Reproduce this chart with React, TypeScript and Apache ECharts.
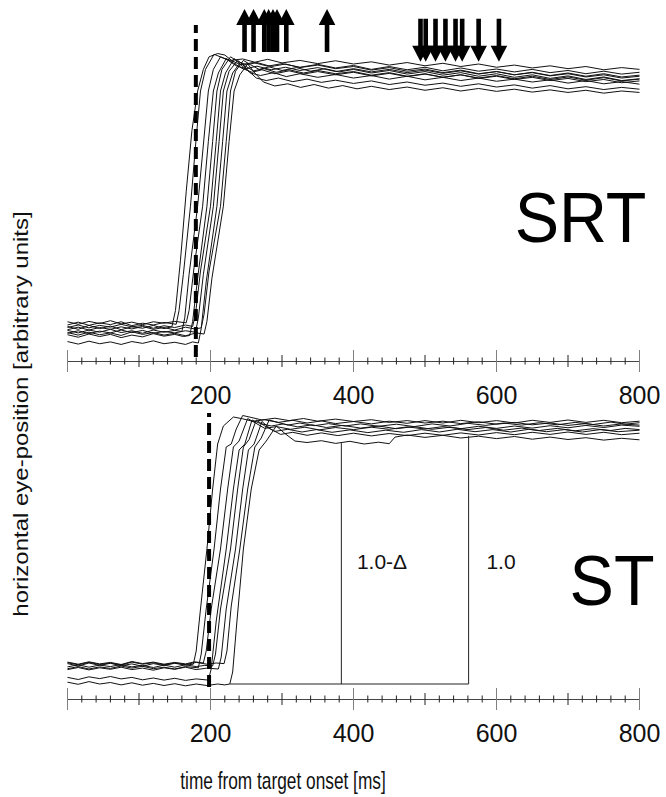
import React, { useEffect, useRef } from "react";
import * as echarts from "echarts";

// ---------- axis ----------
const X_MIN = 0;
const X_MAX = 800;
const TICK_LABELS = [200, 400, 600, 800];
const TICKS = [0, 20, 40, 60, 80, 100, 120, 140, 160, 180, 200, 220, 240, 260, 280, 300, 320, 340, 360, 380, 400,
  420, 440, 460, 480, 500, 520, 540, 560, 580, 600, 620, 640, 660, 680, 700, 720, 740, 760, 780, 800];

// ---------- SRT panel ----------
const U1 = [[0,9.6],[15,8.8],[30,9.9],[45,9.0],[60,9.7],[75,8.7],[90,9.5],[105,9.1],[120,9.9],[135,9.0],[146,9.5],[151,14],[158,28],[166,47],[174,64],[182,75],[190,81],[198,84.5],[210,85.4],[220,85.0],[230,83.4],[242,82.3],[260,82.9],[280,81.9],[300,82.6],[325,81.6],[350,82.4],[375,81.4],[400,82.1],[425,81.0],[450,81.8],[475,80.9],[500,81.6],[525,80.6],[550,81.4],[575,80.5],[600,81.1],[625,80.3],[650,81.0],[675,80.1],[700,80.7],[725,79.8],[750,80.5],[775,79.7],[800,80.2]];
const U2 = [[0,10.0],[15,10.8],[30,9.9],[45,10.6],[60,10.1],[75,10.9],[90,9.8],[105,10.5],[120,10.0],[135,10.7],[152,10.2],[156,14],[162,24],[172,43],[180,62],[186,75],[193,81],[205,85.2],[216,84.3],[228,83.5],[245,83.9],[262,83.0],[280,83.8],[300,82.8],[325,83.5],[350,82.6],[375,83.4],[400,82.5],[425,83.1],[450,82.2],[475,82.9],[500,82.0],[525,82.7],[550,81.8],[575,82.5],[600,81.6],[625,82.2],[650,81.4],[675,82.0],[700,81.2],[725,81.8],[750,80.9],[775,81.5],[800,81.0]];
const U3 = [[0,8.5],[15,7.8],[30,8.6],[45,8.0],[60,8.8],[75,7.9],[90,8.4],[105,7.7],[120,8.6],[135,8.0],[150,8.5],[160,8.2],[164,12],[170,24],[182,43],[190,60],[197,75],[204,81],[214,84.5],[224,83.6],[236,82.0],[250,81.2],[265,81.9],[285,80.9],[305,81.6],[325,80.7],[350,81.5],[375,80.4],[400,81.2],[425,80.3],[450,81.0],[475,80.1],[500,80.8],[525,79.9],[550,80.6],[575,79.7],[600,80.4],[625,79.5],[650,80.2],[675,79.3],[700,80.0],[725,79.1],[750,79.8],[775,78.9],[800,79.4]];
const U4 = [[0,10.9],[15,10.2],[30,11.0],[45,10.4],[60,11.2],[75,10.3],[90,10.8],[105,10.1],[120,10.9],[135,10.5],[150,11.0],[166,10.6],[170,14],[177,26],[189,43],[197,61],[204,75],[211,80],[222,84.0],[232,82.8],[244,81.3],[258,80.2],[272,80.9],[290,79.8],[310,80.6],[330,79.7],[350,80.4],[375,79.5],[400,80.2],[425,79.2],[450,79.9],[475,79.0],[500,79.7],[525,78.8],[550,79.5],[575,78.6],[600,79.3],[625,78.4],[650,79.1],[675,78.2],[700,78.9],[725,78.0],[750,78.7],[775,77.8],[800,78.3]];
const U5 = [[0,7.3],[15,6.6],[30,7.5],[45,6.8],[60,7.4],[75,6.5],[90,7.2],[105,6.7],[120,7.6],[135,6.9],[150,7.4],[162,6.8],[171,7.1],[175,11],[182,23],[195,43],[203,61],[209,75],[216,81],[228,84.5],[238,83.2],[250,82.3],[265,82.9],[285,81.8],[305,82.5],[325,81.5],[350,82.2],[375,81.2],[400,81.8],[425,80.8],[450,81.5],[475,80.5],[500,81.1],[525,80.1],[550,80.8],[575,79.8],[600,80.4],[625,79.5],[650,80.1],[675,79.2],[700,79.8],[725,78.9],[750,79.5],[775,78.6],[800,79.1]];
const U6 = [[0,9.3],[15,10.0],[30,9.2],[45,9.9],[60,9.4],[75,10.2],[90,9.5],[105,9.9],[120,9.1],[135,9.8],[150,9.3],[165,10.0],[175,9.6],[179,13],[186,25],[200,43],[208,61],[214,75],[221,80],[233,84.0],[244,82.0],[256,80.0],[270,79.3],[288,80.1],[306,79.0],[325,79.8],[350,78.8],[375,79.6],[400,78.6],[425,79.3],[450,78.3],[475,79.1],[500,78.1],[525,78.8],[550,77.9],[575,78.6],[600,77.7],[625,78.3],[650,77.5],[675,78.1],[700,77.2],[725,77.9],[750,77.0],[775,77.6],[800,76.9]];
const U7 = [[0,7.7],[15,8.4],[30,7.6],[45,8.3],[60,7.8],[75,8.6],[90,7.9],[105,8.5],[120,7.7],[135,8.2],[150,7.8],[165,8.4],[179,8.0],[183,12],[190,24],[204,43],[212,61],[218,75],[226,80.5],[238,83.5],[248,82.0],[260,80.6],[275,81.2],[292,80.2],[310,80.9],[330,80.0],[350,80.7],[375,79.8],[400,80.4],[425,79.4],[450,80.1],[475,79.1],[500,79.8],[525,78.8],[550,79.5],[575,78.5],[600,79.1],[625,78.2],[650,78.8],[675,77.9],[700,78.5],[725,77.6],[750,78.2],[775,77.3],[800,77.8]];
const U8 = [[0,5.4],[15,4.7],[30,5.5],[45,4.8],[60,5.3],[75,4.6],[90,5.4],[105,4.9],[120,5.6],[135,4.8],[150,5.2],[165,4.6],[175,5.3],[183,5.0],[187,9],[194,22],[209,43],[217,61],[223,75],[231,80],[242,83.0],[252,80.8],[264,78.6],[278,77.9],[295,78.6],[315,77.6],[335,78.3],[355,77.4],[375,78.0],[400,77.1],[425,77.8],[450,76.8],[475,77.5],[500,76.6],[525,77.2],[550,76.3],[575,77.0],[600,76.1],[625,76.7],[650,75.8],[675,76.5],[700,75.6],[725,76.2],[750,75.4],[775,76.0],[800,75.5]];
const U9 = [[0,8.7],[15,9.4],[30,8.6],[45,9.3],[60,8.8],[75,9.5],[90,8.9],[105,9.6],[120,8.8],[135,9.3],[150,8.6],[165,9.4],[178,8.9],[187,9.2],[191,13],[198,25],[214,43],[222,61],[228,75],[235,80.5],[246,83.5],[256,82.3],[268,81.0],[282,81.7],[300,80.7],[320,81.5],[340,80.5],[360,81.2],[380,80.3],[400,81.0],[425,80.0],[450,80.7],[475,79.7],[500,80.4],[525,79.4],[550,80.1],[575,79.1],[600,79.8],[625,78.8],[650,79.5],[675,78.5],[700,79.2],[725,78.2],[750,78.9],[775,77.9],[800,78.4]];
const U10 = [[0,7.9],[15,7.2],[30,8.0],[45,7.3],[60,7.8],[75,7.1],[90,8.1],[105,7.4],[120,7.9],[135,7.2],[150,7.7],[165,7.0],[180,7.8],[191,7.5],[195,11],[202,23],[218,43],[226,61],[233,75],[241,79.5],[252,82.5],[262,80.0],[274,77.5],[290,76.4],[308,77.0],[326,76.0],[345,76.8],[365,75.8],[385,76.5],[405,75.6],[425,76.3],[450,75.4],[475,76.1],[500,75.2],[525,75.9],[550,75.0],[575,75.7],[600,74.9],[625,75.5],[650,74.7],[675,75.3],[700,74.6],[725,75.2],[750,74.4],[775,75.0],[800,74.6]];
const SRT_TRACES = [U1, U2, U3, U4, U5, U6, U7, U8, U9, U10];
const SRT_DASH_X = 179.5;
const SRT_DASH_RANGE = [1.1, 93.3];
const UP_ARROW_TIMES = [247.6, 260.2, 275.2, 281.3, 287.4, 293, 306, 363];
const DOWN_ARROW_TIMES = [493.7, 501, 514.7, 528.6, 542.7, 552, 575, 603.4];
const UP_ARROW_TIP = 97.8;
const DOWN_ARROW_TIP = 83.1;

// ---------- ST panel ----------
const L1 = [[0,11.8],[15,11.0],[30,12.0],[45,11.2],[60,11.9],[75,11.1],[90,11.7],[105,10.9],[120,11.8],[135,11.2],[150,11.9],[165,11.3],[176,11.6],[180,16],[186,30],[195,50],[203,70],[210,85],[218,91],[232,94.0],[245,93.4],[260,92.5],[275,93.1],[295,92.2],[315,92.9],[335,92.0],[355,92.7],[375,91.8],[400,92.5],[425,91.7],[450,92.6],[475,91.9],[500,92.8],[525,92.0],[550,92.9],[575,92.1],[600,92.8],[625,92.0],[650,92.9],[675,92.2],[700,93.0],[725,92.2],[750,92.9],[775,92.1],[800,92.6]];
const L2 = [[0,10.1],[15,10.8],[30,10.0],[45,10.7],[60,10.2],[75,11.0],[90,10.3],[105,10.9],[120,10.1],[135,10.6],[150,10.0],[165,10.8],[183,10.4],[187,15],[194,30],[205,50],[214,70],[222,84],[229,85],[236,90],[245,94.5],[258,93.8],[272,93.0],[290,93.6],[310,92.8],[330,93.5],[350,92.6],[375,93.3],[400,92.5],[425,93.1],[450,92.2],[475,92.8],[500,92.0],[525,92.6],[550,91.8],[575,92.4],[600,91.6],[625,92.2],[650,91.4],[675,92.0],[700,91.2],[725,91.8],[750,91.0],[775,91.7],[800,91.3]];
const L3 = [[0,12.3],[15,11.6],[30,12.4],[45,11.7],[60,12.2],[75,11.5],[90,12.5],[105,11.8],[120,12.3],[135,11.6],[150,12.2],[165,11.7],[178,12.4],[190,12.0],[194,16],[201,30],[214,50],[224,70],[232,84],[240,86],[252,93.5],[263,92.0],[276,90.2],[292,90.8],[312,89.9],[332,90.6],[352,89.7],[375,90.5],[400,89.8],[425,90.6],[450,89.9],[475,90.7],[500,90.0],[525,90.8],[550,90.1],[575,90.9],[600,90.2],[625,91.0],[650,90.3],[675,91.1],[700,90.4],[725,91.2],[750,90.5],[775,91.3],[800,90.9]];
const L4 = [[0,7.2],[15,6.5],[30,7.4],[45,6.8],[60,7.5],[75,6.7],[90,7.2],[105,6.4],[120,7.0],[135,6.3],[150,6.9],[165,6.2],[180,6.7],[197,6.3],[201,10],[208,26],[222,50],[232,70],[240,83],[248,85],[258,93.0],[270,91.8],[285,91.0],[302,91.7],[322,90.7],[342,91.4],[362,90.5],[385,91.2],[410,90.3],[435,91.0],[460,90.1],[485,90.8],[510,89.9],[535,90.6],[560,89.8],[585,90.5],[610,89.6],[635,90.3],[660,89.5],[685,90.2],[710,89.4],[735,90.1],[760,89.5],[780,90.2],[800,89.8]];
const L5 = [[0,10.7],[15,11.4],[30,10.6],[45,11.3],[60,10.8],[75,11.5],[90,10.7],[105,11.2],[120,10.5],[135,11.3],[150,10.6],[165,11.4],[180,10.8],[192,11.2],[203,11.0],[207,15],[214,30],[228,50],[238,70],[246,84],[254,86.5],[264,93.0],[276,91.0],[290,89.2],[308,89.9],[328,89.0],[348,89.8],[370,88.9],[395,89.7],[420,88.8],[445,89.6],[470,88.9],[495,89.8],[520,89.0],[545,89.9],[570,89.1],[595,89.8],[620,89.0],[645,89.9],[670,89.1],[695,89.8],[720,89.0],[745,89.8],[770,89.1],[800,89.6]];
const L6 = [[0,9.8],[15,10.5],[30,9.7],[45,10.4],[60,9.9],[75,10.6],[90,9.8],[105,10.3],[120,9.6],[135,10.4],[150,9.9],[165,10.6],[180,9.8],[195,10.3],[211,10.0],[215,14],[222,30],[235,50],[245,70],[253,83],[261,85],[272,92.5],[284,90.0],[298,88.2],[315,88.9],[335,87.9],[355,88.7],[378,87.8],[400,88.6],[425,87.7],[450,88.5],[475,87.8],[500,88.6],[525,87.9],[550,88.7],[575,88.0],[600,88.8],[625,88.1],[650,88.9],[675,88.2],[700,89.0],[725,88.2],[750,88.9],[775,88.1],[800,88.6]];
const L7 = [[0,12.1],[15,11.4],[30,12.2],[45,11.5],[60,12.0],[75,11.3],[90,12.3],[105,11.6],[120,12.1],[135,11.4],[150,12.0],[165,11.5],[180,12.2],[195,11.6],[208,12.0],[219,11.8],[223,16],[229,31],[241,50],[252,70],[262,84],[271,87],[282,93.0],[294,92.2],[308,91.3],[325,92.0],[345,91.1],[365,91.8],[388,91.0],[410,91.7],[435,90.9],[460,91.6],[485,90.8],[510,91.7],[535,91.0],[560,91.9],[585,91.2],[610,92.0],[635,91.3],[660,92.1],[685,91.4],[710,92.2],[735,91.5],[760,92.3],[780,91.6],[800,92.1]];
const L8 = [[0,5.6],[15,4.9],[30,5.8],[45,5.0],[60,5.5],[75,4.7],[90,5.4],[105,4.6],[120,5.2],[135,4.5],[150,5.1],[165,4.4],[180,5.0],[195,4.5],[210,5.0],[220,4.7],[227,5.0],[231,9],[237,26],[246,50],[257,70],[268,83],[278,86],[292,91.0],[304,88.5],[318,86.0],[335,85.5],[355,86.1],[375,85.2],[395,85.9],[415,85.0],[435,85.6],[450,85.1],[458,87.3],[475,88.0],[500,87.2],[525,87.9],[550,87.0],[575,87.6],[600,86.8],[625,87.5],[650,86.6],[675,87.3],[700,86.5],[725,87.1],[750,86.3],[775,86.9],[800,86.4]];
const ST_TRACES = [L1, L2, L3, L4, L5, L6, L7, L8];
const ST_DASH_X = 198;
const ST_DASH_RANGE = [4, 95.3];
const ST_BRACKET = [[227, 5], [561, 5], [561, 87.7]];
const ST_DIVIDER = [[383, 5], [383, 85.3]];
const ST_REGION_LABELS = ["1.0-Δ", "1.0"];

const FONT = "'Liberation Sans', Arial, Helvetica, sans-serif";

const tickSeries = (gi: number) => ({
  type: "custom",
  xAxisIndex: gi,
  yAxisIndex: gi,
  silent: true,
  data: TICKS.map((t) => [t, 0]),
  renderItem: (params: any, api: any) => {
    const v = api.value(0);
    const p = api.coord([v, 0]);
    const major = v % 200 === 0;
    const mid = !major && v % 100 === 0;
    const len = major ? 11 : mid ? 6 : 3.5;
    return {
      type: "line",
      shape: { x1: p[0], y1: p[1] - len, x2: p[0], y2: p[1] + len },
      style: { stroke: major ? "#808080" : "#222", lineWidth: 1 },
    };
  },
});

const arrowSeries = {
  type: "custom",
  xAxisIndex: 0,
  yAxisIndex: 0,
  silent: true,
  data: [
    ...UP_ARROW_TIMES.map((t) => [t, UP_ARROW_TIP, 1]),
    ...DOWN_ARROW_TIMES.map((t) => [t, DOWN_ARROW_TIP, -1]),
  ],
  renderItem: (params: any, api: any) => {
    const p = api.coord([api.value(0), api.value(1)]);
    const d = api.value(2) === 1 ? 1 : -1;
    const hw = 8.3, sw = 2.3, hh = 16, len = 43;
    const pts = [
      [0, 0], [hw, hh], [sw, hh], [sw, len], [-sw, len], [-sw, hh], [-hw, hh],
    ].map(([x, y]) => [p[0] + x, p[1] + d * y]);
    return { type: "polygon", shape: { points: pts }, style: { fill: "#000" } };
  },
};

const traceSeries = (data: number[][], gi: number) => ({
  type: "line",
  xAxisIndex: gi,
  yAxisIndex: gi,
  data,
  symbol: "none",
  silent: true,
  lineStyle: { color: "#111", width: 1 },
});

const xAxisFor = (gi: number) => ({
  gridIndex: gi,
  type: "value",
  min: X_MIN,
  max: X_MAX,
  interval: 200,
  axisLine: { show: true, onZero: false, lineStyle: { color: "#444", width: 1 } },
  axisTick: { show: false },
  splitLine: { show: false },
  axisLabel: {
    show: true,
    margin: 21,
    fontSize: 25,
    fontFamily: FONT,
    color: "#111",
    formatter: (v: number) => (TICK_LABELS.includes(v) ? String(v) : ""),
  },
});

const option: any = {
  animation: false,
  backgroundColor: "#fff",
  grid: [
    { left: 67.5, width: 572, top: 1, height: 360 },
    { left: 67.5, width: 572, top: 399, height: 300 },
  ],
  xAxis: [xAxisFor(0), xAxisFor(1)],
  yAxis: [
    { gridIndex: 0, type: "value", min: 0, max: 100, show: false },
    { gridIndex: 1, type: "value", min: 0, max: 100, show: false },
  ],
  series: [
    ...SRT_TRACES.map((d) => traceSeries(d, 0)),
    ...ST_TRACES.map((d) => traceSeries(d, 1)),
    {
      type: "line", xAxisIndex: 1, yAxisIndex: 1, symbol: "none", silent: true,
      data: ST_BRACKET, lineStyle: { color: "#222", width: 1 },
    },
    {
      type: "line", xAxisIndex: 1, yAxisIndex: 1, symbol: "none", silent: true,
      data: ST_DIVIDER, lineStyle: { color: "#222", width: 1 },
    },
    {
      type: "line", xAxisIndex: 0, yAxisIndex: 0, symbol: "none", silent: true,
      data: SRT_DASH_RANGE.map((v) => [SRT_DASH_X, v]),
      lineStyle: { color: "#000", width: 4, type: [12, 6] },
    },
    {
      type: "line", xAxisIndex: 1, yAxisIndex: 1, symbol: "none", silent: true,
      data: ST_DASH_RANGE.map((v) => [ST_DASH_X, v]),
      lineStyle: { color: "#000", width: 4, type: [12, 6] },
    },
    arrowSeries,
    tickSeries(0),
    tickSeries(1),
  ],
  graphic: [
    {
      type: "text", x: 646.5, y: 217, scaleX: 0.95,
      style: { text: "SRT", font: `70px ${FONT}`, fill: "#000", align: "right", verticalAlign: "middle" },
    },
    {
      type: "text", x: 654.5, y: 580, scaleX: 0.95,
      style: { text: "ST", font: `70px ${FONT}`, fill: "#000", align: "right", verticalAlign: "middle" },
    },
    {
      type: "text", x: 382, y: 561,
      style: { text: ST_REGION_LABELS[0], font: `21px ${FONT}`, fill: "#111", align: "center", verticalAlign: "middle" },
    },
    {
      type: "text", x: 501, y: 561,
      style: { text: ST_REGION_LABELS[1], font: `21px ${FONT}`, fill: "#111", align: "center", verticalAlign: "middle" },
    },
    {
      type: "text", x: 21, y: 414, rotation: Math.PI / 2, scaleY: 0.85,
      style: { text: "horizontal eye-position [arbitrary units]", font: `24px ${FONT}`, fill: "#111", align: "center", verticalAlign: "middle" },
    },
    {
      type: "text", x: 283, y: 780, scaleX: 0.72,
      style: { text: "time from target onset [ms]", font: `24px ${FONT}`, fill: "#111", align: "center", verticalAlign: "middle" },
    },
  ],
};

export default function App() {
  const ref = useRef<HTMLDivElement>(null);
  useEffect(() => {
    if (!ref.current) return;
    const chart = echarts.init(ref.current, null, { renderer: "svg" });
    chart.setOption(option);
    return () => chart.dispose();
  }, []);
  return (
    <div
      ref={ref}
      style={{ position: "fixed", left: 0, top: 0, width: 666, height: 797, background: "#fff" }}
    />
  );
}
